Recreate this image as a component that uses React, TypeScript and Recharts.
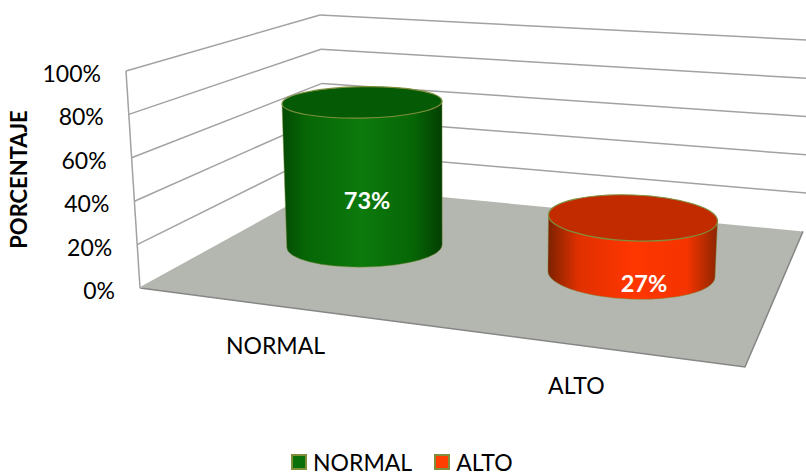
import { Bar, BarChart, LabelList, Legend, XAxis, YAxis, Cell } from "recharts";

const categories = ["NORMAL", "ALTO"];
const percentages = [73, 27];
const yTicks = [0, 20, 40, 60, 80, 100];

const chartData = categories.map((name, i) => ({ name, value: percentages[i] }));

const FONT = "Lato, 'Open Sans', sans-serif";
const WIDTH = 806;
const HEIGHT = 473;
const PLOT_TOP = 71;
const PLOT_BOTTOM = 288;
const GRID = "#a2a2a2";

const sideGradients = ["sideGreen", "sideRed"];
const topFills = ["#055a05", "#c22a00"];
const swatchFills = ["#0a700a", "#ff3e00"];
const RIM = "#7f8f3c";

const valueY = (v: number) => PLOT_BOTTOM - (v / 100) * (PLOT_BOTTOM - PLOT_TOP);

// corners of the 3D box: front-left edge, back-left edge, far right of the back wall
const frontPoint = (v: number) => ({ x: 140 - 0.14 * v, y: valueY(v) });
const backPoint = (v: number) => ({ x: 325 - 0.05 * v, y: 186 - 1.71 * v });
const rightPoint = (v: number) => ({ x: v === 0 ? 803 : 806, y: 231.4 - 1.914 * v });

// bars further right are closer to the camera
const perspective = (cx: number) => 1 + (cx - 361) * 0.00021;
const floorY = (cx: number) => 246 + (cx - 361) * 0.1033;
const rimRadiusY = (cx: number, y: number) => 21 + 0.037 * (y - 246) + 0.011 * (cx - 361);
const rimTilt = (cx: number) => -1 + 0.0118 * (cx - 361);

function cylinderGeometry(x: number, width: number, height: number) {
  const cx = x + width / 2;
  const p = perspective(cx);
  const baseY = floorY(cx);
  const h = height * 0.907 * p;
  const topY = baseY - h;
  const topRx = (width * p) / 2;
  const baseRx = topRx * (1 - h * 0.0002);
  const baseX = cx + 2.5 - 0.0148 * (cx - 361);
  return {
    cx,
    baseX,
    baseY,
    topY,
    topRx,
    baseRx,
    topRy: rimRadiusY(cx, topY),
    baseRy: rimRadiusY(cx, baseY),
    tilt: rimTilt(cx),
  };
}

function Cylinder(props: any) {
  const { x, width, height, index } = props;
  const g = cylinderGeometry(x, width, height);
  const rad = (g.tilt * Math.PI) / 180;
  const dx = (r: number) => r * Math.cos(rad);
  const dy = (r: number) => r * Math.sin(rad);
  const side = [
    `M${g.cx - dx(g.topRx)} ${g.topY - dy(g.topRx)}`,
    `L${g.baseX - dx(g.baseRx)} ${g.baseY - dy(g.baseRx)}`,
    `A${g.baseRx} ${g.baseRy} ${g.tilt} 0 0 ${g.baseX + dx(g.baseRx)} ${g.baseY + dy(g.baseRx)}`,
    `L${g.cx + dx(g.topRx)} ${g.topY + dy(g.topRx)}`,
    "Z",
  ].join(" ");
  return (
    <g>
      <path d={side} fill={`url(#${sideGradients[index]})`} stroke={RIM} strokeWidth={0.8} strokeOpacity={0.6} />
      <ellipse
        cx={g.cx}
        cy={g.topY}
        rx={g.topRx}
        ry={g.topRy}
        fill={topFills[index]}
        stroke={RIM}
        strokeWidth={1.2}
        transform={`rotate(${g.tilt} ${g.cx} ${g.topY})`}
      />
    </g>
  );
}

function ValueLabel(props: any) {
  const { x, width, height, value } = props;
  const g = cylinderGeometry(x, width, height);
  const faceMid = (g.topY + g.topRy + g.baseY + g.baseRy) / 2;
  return (
    <text
      x={g.cx + 5 + 0.022 * (g.cx - 361)}
      y={faceMid + 7.5 + 0.02 * (g.cx - 361)}
      fill="#fff"
      fontFamily={FONT}
      fontSize={23.5}
      fontWeight={700}
      textAnchor="middle"
      dominantBaseline="central"
    >
      {`${value}%`}
    </text>
  );
}

function PercentTick(props: any) {
  const { y, payload } = props;
  return (
    <text
      x={frontPoint(payload.value).x - 25}
      y={y + 2}
      fill="#000"
      fontFamily={FONT}
      fontSize={23}
      textAnchor="end"
      dominantBaseline="central"
    >
      {`${payload.value}%`}
    </text>
  );
}

function CategoryTick(props: any) {
  const { x, payload } = props;
  return (
    <text
      x={x - 86 + (x - 361) * 0.11}
      y={345 + (x - 361) * 0.1476}
      fill="#000"
      fontFamily={FONT}
      fontSize={23}
      textAnchor="middle"
      dominantBaseline="central"
    >
      {payload.value}
    </text>
  );
}

function CategoryLegend() {
  return (
    <div style={{ display: "flex", alignItems: "center", fontFamily: FONT, fontSize: 23, lineHeight: "20px", color: "#000" }}>
      {categories.map((name, i) => (
        <span key={name} style={{ display: "flex", alignItems: "center", marginRight: 22 }}>
          <span
            style={{
              display: "inline-block",
              width: 12,
              height: 12,
              marginRight: 6,
              background: swatchFills[i],
              border: `2px solid ${RIM}`,
            }}
          />
          {name}
        </span>
      ))}
    </div>
  );
}

function Walls() {
  const f0 = frontPoint(0);
  const b0 = backPoint(0);
  const r0 = rightPoint(0);
  return (
    <g>
      <polygon
        points={`${f0.x},${f0.y} 745,367 ${r0.x},${r0.y} ${b0.x},${b0.y}`}
        fill="#b4b7b0"
      />
      <polyline points={`${f0.x},${f0.y} 745,367 ${r0.x},${r0.y}`} fill="none" stroke="#868686" strokeWidth={1.5} />
      {yTicks.map((v) => {
        const f = frontPoint(v);
        const b = backPoint(v);
        const r = rightPoint(v);
        return (
          <g key={v} fill="none" stroke={GRID} strokeWidth={1.5}>
            <line x1={f.x} y1={f.y} x2={b.x} y2={b.y} stroke={v === 0 ? "#b4b7b0" : GRID} />
            {v > 0 && <line x1={b.x} y1={b.y} x2={r.x} y2={r.y} />}
          </g>
        );
      })}
      <line
        x1={frontPoint(0).x}
        y1={frontPoint(0).y}
        x2={frontPoint(100).x}
        y2={frontPoint(100).y}
        stroke={GRID}
        strokeWidth={1.5}
      />
    </g>
  );
}

export default function App() {
  return (
    <div style={{ position: "absolute", left: 0, top: 0, width: WIDTH, height: HEIGHT, overflow: "hidden", background: "#fff" }}>
      <BarChart
        width={WIDTH}
        height={HEIGHT}
        data={chartData}
        margin={{ top: PLOT_TOP, right: 38, bottom: HEIGHT - PLOT_BOTTOM - 30, left: 0 }}
      >
        <defs>
          <linearGradient id="sideGreen" x1="0" x2="1" y1="0" y2="0">
            <stop offset="0" stopColor="#044a04" />
            <stop offset="0.15" stopColor="#066606" />
            <stop offset="0.5" stopColor="#0c7a0c" />
            <stop offset="0.82" stopColor="#066606" />
            <stop offset="1" stopColor="#033f03" />
          </linearGradient>
          <linearGradient id="sideRed" x1="0" x2="1" y1="0" y2="0">
            <stop offset="0" stopColor="#7c2200" />
            <stop offset="0.18" stopColor="#e03000" />
            <stop offset="0.5" stopColor="#ff3600" />
            <stop offset="0.82" stopColor="#f53400" />
            <stop offset="1" stopColor="#8c2600" />
          </linearGradient>
        </defs>
        <Walls />
        <XAxis dataKey="name" axisLine={false} tickLine={false} height={30} tick={<CategoryTick />} />
        <YAxis
          domain={[0, 100]}
          ticks={yTicks}
          width={226}
          axisLine={false}
          tickLine={false}
          tick={<PercentTick />}
          label={{
            value: "PORCENTAJE",
            angle: -90,
            position: "insideLeft",
            offset: 19,
            style: { fontFamily: FONT, fontSize: 22, fontWeight: 700, fill: "#000", textAnchor: "middle" },
          }}
        />
        <Legend
          layout="vertical"
          align="center"
          verticalAlign="middle"
          content={<CategoryLegend />}
          wrapperStyle={{ position: "absolute", left: 291, top: 452, width: "auto" }}
        />
        <Bar dataKey="value" barSize={160} shape={<Cylinder />} isAnimationActive={false}>
          {chartData.map((d, i) => (
            <Cell key={d.name} fill={swatchFills[i]} />
          ))}
          <LabelList dataKey="value" content={<ValueLabel />} />
        </Bar>
      </BarChart>
    </div>
  );
}
